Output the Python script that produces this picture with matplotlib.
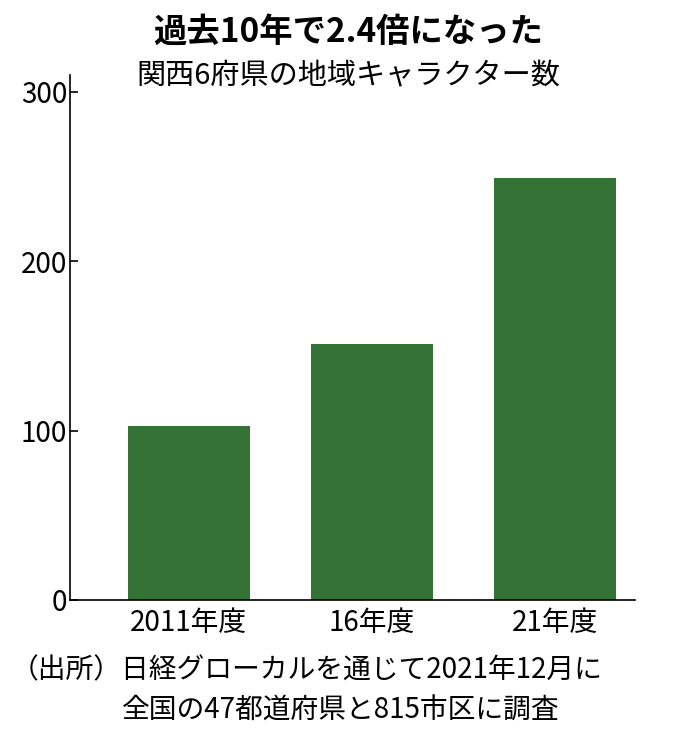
import matplotlib.pyplot as plt

plt.rcParams['font.family'] = ['Noto Sans CJK JP', 'DejaVu Sans']

years = ['2011年度', '16年度', '21年度']
counts = [103, 151, 249]

fig = plt.figure(figsize=(6.96, 7.43), dpi=100)
ax = fig.add_axes([0.1006, 0.1925, 0.812, 0.7066])
ax.bar(range(len(years)), counts, width=0.667, color='#347335')
ax.set_xlim(-0.65, 2.44)
ax.set_ylim(0, 310)
ax.set_yticks([0, 100, 200, 300])
ax.set_xticks(range(len(years)))
ax.set_xticklabels(years, fontsize=20)
ax.tick_params(axis='y', labelsize=20, direction='in', length=6, width=1.2, pad=2)
ax.tick_params(axis='x', length=0, pad=6)
for s in ['top', 'right']:
    ax.spines[s].set_visible(False)
ax.spines['left'].set_linewidth(1.2)
ax.spines['bottom'].set_linewidth(1.2)

fig.text(0.5, 0.957, '過去10年で2.4倍になった', ha='center', va='center', fontsize=24, fontweight='bold')
fig.text(0.5, 0.897, '関西6府県の地域キャラクター数', ha='center', va='center', fontsize=21)
fig.text(0.015, 0.098, '（出所）日経グローカルを通じて2021年12月に', ha='left', va='center', fontsize=20)
fig.text(0.175, 0.043, '全国の47都道府県と815市区に調査', ha='left', va='center', fontsize=20)

fig.savefig('out.png', dpi=100)
